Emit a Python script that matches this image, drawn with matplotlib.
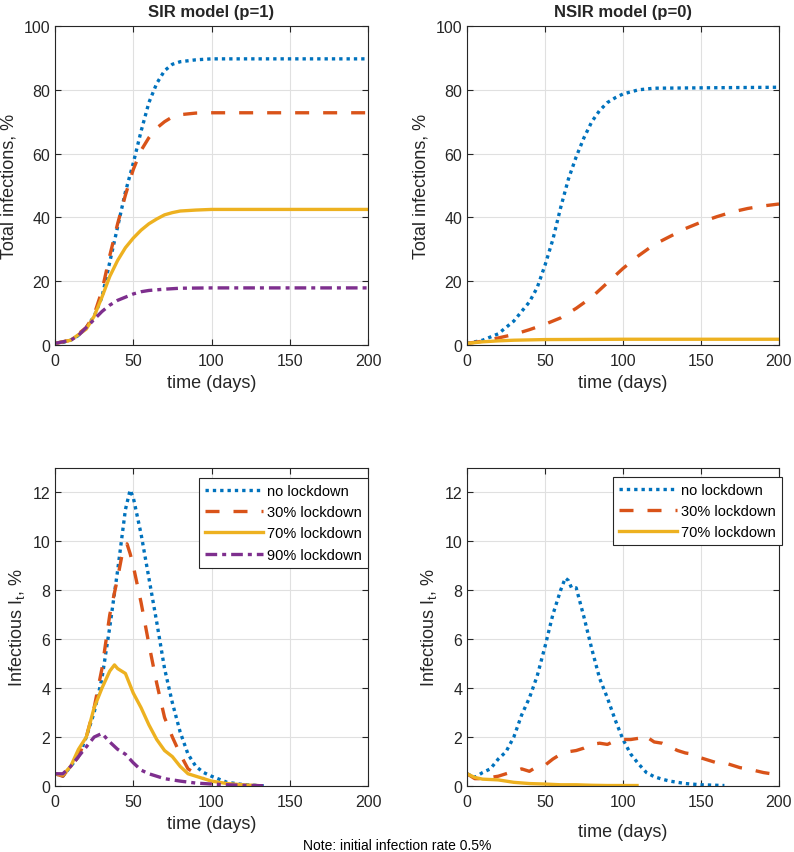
import numpy as np
import matplotlib
matplotlib.use('Agg')
import matplotlib.pyplot as plt

plt.rcParams['font.family'] = ['Liberation Sans', 'DejaVu Sans']
plt.rcParams['mathtext.default'] = 'regular'

# colours (MATLAB default order)
c_blue, c_orange, c_yellow, c_purple = '#0072BD', '#D95319', '#EDB120', '#7E2F8E'
grey = '#262626'

labels = ['no lockdown', '30% lockdown', '70% lockdown', '90% lockdown']

# --- SIR, total infections (%)
sir_tot_t_blue = [0, 5, 10, 15, 20, 25, 30, 35, 40, 45, 50, 55, 60, 65, 70, 75, 80, 90, 100, 200]
sir_tot_blue = [0.5, 0.8, 1.5, 3, 5.5, 9, 15, 26, 37, 48, 57, 67, 76, 82, 86, 88, 88.8, 89.4, 89.7, 89.7]
sir_tot_t_orange = [0, 10, 20, 25, 30, 35, 40, 45, 50, 55, 60, 65, 70, 75, 80, 90, 100, 200]
sir_tot_orange = [0.5, 1.5, 5.5, 9.5, 17, 28, 38, 47, 55, 61, 65, 68, 70, 71.5, 72.2, 72.7, 72.8, 72.8]
sir_tot_t_yellow = [0, 10, 20, 25, 30, 35, 40, 45, 50, 55, 60, 65, 70, 75, 80, 90, 100, 200]
sir_tot_yellow = [0.5, 1.5, 5, 9, 15, 21.5, 26.5, 30.5, 33.5, 36, 38, 39.5, 40.8, 41.5, 42, 42.3, 42.5, 42.5]
sir_tot_t_purple = [0, 10, 15, 20, 25, 30, 35, 40, 45, 50, 55, 60, 70, 80, 100, 200]
sir_tot_purple = [0.5, 1.5, 3, 5.5, 8, 10.5, 12.5, 14, 15, 16, 16.7, 17.1, 17.5, 17.8, 17.9, 17.9]

# --- NSIR, total infections (%)
nsir_tot_t_blue = [0, 10, 20, 30, 40, 45, 50, 55, 60, 65, 70, 75, 80, 85, 90, 95, 100, 110, 120, 200]
nsir_tot_blue = [0.5, 1.5, 3.5, 7.5, 13.5, 18, 25, 33, 43, 52, 59, 65, 70, 73.5, 76, 77.5, 78.7, 80, 80.5, 80.8]
nsir_tot_t_orange = [0, 10, 20, 30, 40, 50, 60, 70, 80, 90, 100, 110, 120, 130, 140, 150, 160, 170, 180, 190, 200]
nsir_tot_orange = [0.5, 1.2, 2.2, 3.3, 4.8, 6.5, 8.5, 11.5, 15, 19.5, 24, 28, 31.5, 34, 36.5, 38.5, 40.2, 41.7, 42.8, 43.6, 44.2]
nsir_tot_t_yellow = [0, 10, 20, 30, 50, 100, 200]
nsir_tot_yellow = [0.5, 1.0, 1.3, 1.5, 1.7, 1.8, 1.8]

# --- SIR, infectious (%)
sir_inf_t_blue = [0, 5, 10, 15, 20, 25, 30, 35, 40, 45, 48, 50, 55, 60, 65, 70, 75, 80, 85, 90, 95, 100, 110, 120, 130, 135]
sir_inf_blue = [0.5, 0.4, 0.8, 1.2, 2.0, 3.0, 4.4, 6.5, 8.8, 11.3, 12.1, 11.8, 10.3, 8.5, 6.7, 4.8, 3.4, 2.2, 1.3, 0.8, 0.55, 0.4, 0.15, 0.06, 0.02, 0.0]
sir_inf_t_orange = [0, 5, 10, 15, 20, 25, 30, 35, 40, 43, 46, 48, 50, 55, 60, 65, 70, 75, 80, 85, 90, 95]
sir_inf_orange = [0.5, 0.4, 0.8, 1.2, 2.0, 3.2, 4.8, 7.0, 8.5, 9.5, 9.9, 9.5, 9.0, 7.5, 5.8, 4.2, 2.8, 2.0, 1.3, 0.7, 0.5, 0.3]
sir_inf_t_yellow = [0, 5, 10, 15, 20, 25, 30, 35, 38, 40, 45, 50, 55, 60, 65, 70, 75, 80, 85, 90, 95, 100, 110, 120, 129]
sir_inf_yellow = [0.5, 0.45, 0.8, 1.5, 2.0, 3.2, 4.0, 4.7, 4.95, 4.8, 4.6, 3.8, 3.2, 2.5, 1.9, 1.45, 1.2, 0.8, 0.5, 0.4, 0.3, 0.2, 0.1, 0.05, 0.02]
sir_inf_t_purple = [0, 5, 10, 15, 20, 25, 30, 35, 40, 45, 50, 55, 60, 65, 70, 80, 90, 100, 110, 120, 133]
sir_inf_purple = [0.5, 0.5, 0.8, 1.2, 1.6, 2.0, 2.15, 1.8, 1.5, 1.3, 0.95, 0.65, 0.5, 0.4, 0.3, 0.2, 0.12, 0.08, 0.05, 0.03, 0.01]

# --- NSIR, infectious (%)
nsir_inf_t_blue = [0, 5, 10, 15, 20, 25, 30, 35, 40, 45, 50, 55, 60, 63, 65, 67, 70, 75, 80, 85, 90, 95, 100, 105, 110, 115, 120, 125, 130, 140, 150, 165]
nsir_inf_blue = [0.5, 0.35, 0.55, 0.7, 1.1, 1.4, 2.0, 2.9, 3.6, 4.5, 5.7, 7.0, 8.0, 8.5, 8.4, 8.1, 8.1, 6.9, 5.6, 4.4, 3.6, 2.7, 1.9, 1.3, 0.9, 0.55, 0.38, 0.28, 0.2, 0.1, 0.05, 0.02]
nsir_inf_t_orange = [0, 5, 10, 20, 25, 30, 35, 40, 45, 50, 55, 60, 65, 70, 75, 80, 85, 90, 95, 100, 105, 110, 113, 120, 125, 130, 135, 140, 145, 150, 155, 160, 165, 170, 175, 180, 190, 195, 200]
nsir_inf_orange = [0.5, 0.3, 0.3, 0.4, 0.5, 0.6, 0.7, 0.6, 0.8, 0.85, 1.1, 1.3, 1.4, 1.45, 1.55, 1.7, 1.75, 1.7, 1.85, 1.9, 1.9, 1.95, 2.1, 1.8, 1.75, 1.6, 1.45, 1.35, 1.3, 1.15, 1.05, 0.95, 0.95, 0.85, 0.75, 0.7, 0.55, 0.5, 0.4]
nsir_inf_t_yellow = [0, 5, 10, 20, 30, 40, 50, 60, 70, 80, 90, 100, 109]
nsir_inf_yellow = [0.5, 0.35, 0.28, 0.25, 0.15, 0.1, 0.08, 0.05, 0.05, 0.03, 0.02, 0.02, 0.02]

styles = {
    'blue': dict(color=c_blue, ls=(0, (1, 1.2)), lw=2.4),
    'orange': dict(color=c_orange, ls=(0, (4.2, 4.2)), lw=2.4),
    'yellow': dict(color=c_yellow, ls='-', lw=2.4),
    'purple': dict(color=c_purple, ls=(0, (3.5, 1.5, 1.2, 1.5)), lw=2.4),
}

fig = plt.figure(figsize=(7.94, 8.53), dpi=100)
W, H = 794, 853


def make_ax(x0, x1, y0, y1):
    return fig.add_axes([x0 / W, 1 - y1 / H, (x1 - x0) / W, (y1 - y0) / H])


def style_ax(ax, ymax, yticks):
    ax.set_xlim(0, 200)
    ax.set_ylim(0, ymax)
    ax.set_xticks([0, 50, 100, 150, 200])
    ax.set_yticks(yticks)
    ax.grid(True, color='#e0e0e0', lw=0.8)
    ax.set_axisbelow(True)
    ax.tick_params(direction='in', length=4, colors=grey, labelsize=11.5,
                   top=True, right=True, labelcolor=grey)
    ax.tick_params(axis='x', pad=6)
    for sp in ax.spines.values():
        sp.set_color(grey)
        sp.set_linewidth(0.8)


ax1 = make_ax(55, 368, 27, 346)
ax2 = make_ax(467, 779, 27, 346)
ax3 = make_ax(55, 368, 469, 787)
ax4 = make_ax(467, 779, 469, 787)

ax1.plot(sir_tot_t_blue, sir_tot_blue, **styles['blue'])
ax1.plot(sir_tot_t_orange, sir_tot_orange, **styles['orange'])
ax1.plot(sir_tot_t_yellow, sir_tot_yellow, **styles['yellow'])
ax1.plot(sir_tot_t_purple, sir_tot_purple, **styles['purple'])

ax2.plot(nsir_tot_t_blue, nsir_tot_blue, **styles['blue'])
ax2.plot(nsir_tot_t_orange, nsir_tot_orange, **styles['orange'])
ax2.plot(nsir_tot_t_yellow, nsir_tot_yellow, **styles['yellow'])

ax3.plot(sir_inf_t_blue, sir_inf_blue, label=labels[0], **styles['blue'])
ax3.plot(sir_inf_t_orange, sir_inf_orange, label=labels[1], **styles['orange'])
ax3.plot(sir_inf_t_yellow, sir_inf_yellow, label=labels[2], **styles['yellow'])
ax3.plot(sir_inf_t_purple, sir_inf_purple, label=labels[3], **styles['purple'])

ax4.plot(nsir_inf_t_blue, nsir_inf_blue, label=labels[0], **styles['blue'])
ax4.plot(nsir_inf_t_orange, nsir_inf_orange, label=labels[1], **styles['orange'])
ax4.plot(nsir_inf_t_yellow, nsir_inf_yellow, label=labels[2], **styles['yellow'])

for ax in (ax1, ax2):
    style_ax(ax, 100, [0, 20, 40, 60, 80, 100])
    ax.set_ylabel('Total infections, %', fontsize=13, color=grey, labelpad=4)
for ax in (ax3, ax4):
    style_ax(ax, 13, [0, 2, 4, 6, 8, 10, 12])
    ax.set_ylabel('Infectious I$_{t}$, %', fontsize=13, color=grey, labelpad=4)

ax1.set_xlabel('time (days)', fontsize=13, color=grey, labelpad=4)
ax2.set_xlabel('time (days)', fontsize=13, color=grey, labelpad=4)
ax3.set_xlabel('time (days)', fontsize=13, color=grey, labelpad=4)
ax4.set_xlabel('time (days)', fontsize=13, color=grey, labelpad=10)

ax1.set_title('SIR model (p=1)', fontsize=12, fontweight='bold', color=grey, pad=7)
ax2.set_title('NSIR model (p=0)', fontsize=12, fontweight='bold', color=grey, pad=7)

for ax, right, top in ((ax3, 1.0, 1 - 10 / 318), (ax4, 1.0096, 1 - 9 / 318)):
    leg = ax.legend(loc='upper right', bbox_to_anchor=(right, top), borderaxespad=0,
                    fontsize=10.5, handlelength=4, handletextpad=0.3,
                    labelspacing=0.5, fancybox=False, framealpha=1,
                    edgecolor=grey, borderpad=0.4)
    leg.get_frame().set_linewidth(0.8)

fig.text(397 / W, 1 - 846 / H, 'Note: initial infection rate 0.5%', ha='center',
         va='center', fontsize=10, color='black')

fig.savefig('out.png', dpi=100)
